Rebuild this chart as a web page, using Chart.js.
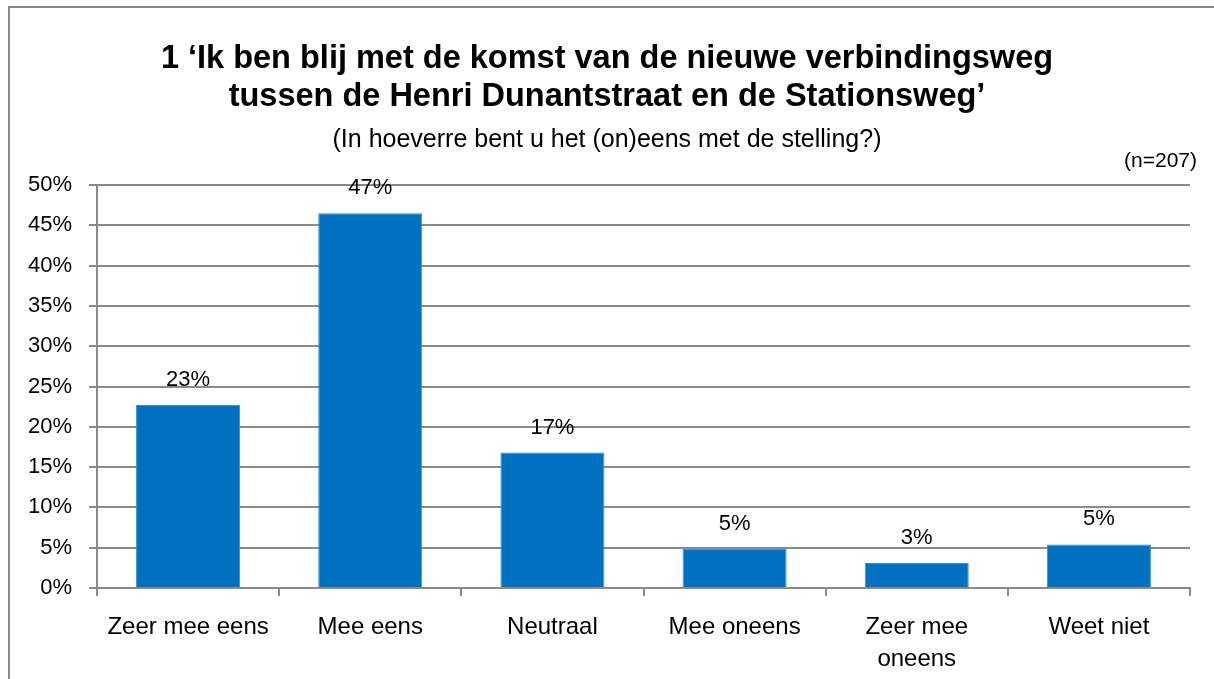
<!DOCTYPE html>
<html>
<head>
<meta charset="utf-8">
<script src="https://cdn.jsdelivr.net/npm/chart.js@4"></script>
<style>
  html, body { margin: 0; padding: 0; background: #fff; overflow: hidden; }
  #wrap { width: 1214px; height: 679px; position: relative; }
</style>
</head>
<body>
<div id="wrap"><canvas id="chart" width="1214" height="679"></canvas></div>
<script>
// data
const categories = ['Zeer mee eens', 'Mee eens', 'Neutraal', 'Mee oneens', ['Zeer mee', 'oneens'], 'Weet niet'];
const percentages = [22.7, 46.5, 16.8, 4.9, 3.1, 5.4];
const titleLines = ['1 \u2018Ik ben blij met de komst van de nieuwe verbindingsweg', 'tussen de Henri Dunantstraat en de Stationsweg\u2019'];
const subtitleText = '(In hoeverre bent u het (on)eens met de stelling?)';
const sampleText = '(n=207)';

const FONT = "'Liberation Sans', Arial, sans-serif";
const GRID = '#8a8a8a';

// frame lines + n label + value labels above bars
const extras = {
  id: 'extras',
  beforeDraw(chart) {
    const ctx = chart.ctx;
    ctx.save();
    ctx.strokeStyle = GRID;
    ctx.lineWidth = 2;
    ctx.beginPath();
    ctx.moveTo(9, 679);
    ctx.lineTo(9, 7);
    ctx.lineTo(1214, 7);
    ctx.stroke();
    ctx.restore();
  },
  afterDatasetsDraw(chart) {
    const ctx = chart.ctx;
    ctx.save();
    ctx.fillStyle = '#000';
    ctx.font = '21px ' + FONT;
    ctx.textAlign = 'right';
    ctx.textBaseline = 'alphabetic';
    ctx.fillText(sampleText, 1197, 167);

    ctx.font = '22px ' + FONT;
    ctx.textAlign = 'center';
    const meta = chart.getDatasetMeta(0);
    meta.data.forEach((bar, i) => {
      ctx.fillText(Math.round(percentages[i]) + '%', bar.x, bar.y - 19);
    });
    ctx.restore();
  }
};

new Chart(document.getElementById('chart').getContext('2d'), {
  type: 'bar',
  data: {
    labels: categories,
    datasets: [{
      data: percentages,
      backgroundColor: '#0070C0',
      borderColor: '#3a8fd0',
      borderWidth: 1,
      barPercentage: 0.571,
      categoryPercentage: 1.0
    }]
  },
  options: {
    responsive: false,
    animation: false,
    layout: { padding: { left: 24, right: 24, top: 0, bottom: 0 } },
    plugins: {
      legend: { display: false },
      tooltip: { enabled: false },
      title: {
        display: true,
        text: titleLines,
        color: '#000',
        font: { family: FONT, size: 32.5, weight: 'bold', lineHeight: 1.17 },
        padding: { top: 40, bottom: 0 }
      },
      subtitle: {
        display: true,
        text: subtitleText,
        color: '#000',
        font: { family: FONT, size: 25, lineHeight: 1.2 },
        padding: { top: 9, bottom: 30 }
      }
    },
    scales: {
      x: {
        grid: { offset: true, drawOnChartArea: false, drawTicks: true, tickLength: 8, color: GRID, lineWidth: 2 },
        border: { color: GRID, width: 2 },
        ticks: { color: '#000', font: { family: FONT, size: 24, lineHeight: 1.33 }, padding: 15, maxRotation: 0, autoSkip: false },
        afterFit(scale) { scale.height = 91; }
      },
      y: {
        min: 0,
        max: 50,
        grid: { color: GRID, lineWidth: 2, tickLength: 8 },
        border: { color: GRID, width: 2 },
        ticks: { stepSize: 5, color: '#000', font: { family: FONT, size: 22 }, padding: 17, callback: v => v + '%' },
        afterFit(scale) { scale.width = 73; }
      }
    }
  },
  plugins: [extras]
});
</script>
</body>
</html>
